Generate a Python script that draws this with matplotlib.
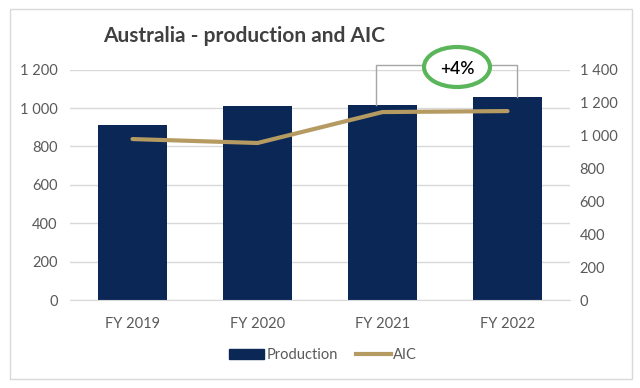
import numpy as np
import matplotlib
matplotlib.use("Agg")
from matplotlib import pyplot as plt
from matplotlib.patches import Rectangle, Ellipse
from matplotlib.lines import Line2D

years = ["FY 2019", "FY 2020", "FY 2021", "FY 2022"]
production = [912, 1012, 1015, 1058]
aic = [978, 954, 1142, 1148]
change_label = "+4%"

navy = "#0A2756"
tan = "#B59A62"
grey_txt = "#595959"

plt.rcParams["font.family"] = ["Lato", "DejaVu Sans"]

fig = plt.figure(figsize=(6.4, 3.88), dpi=100)
fig.patch.set_facecolor("white")

# chart frame
fig.add_artist(Rectangle((10 / 640, 1 - 379 / 388), 622 / 640, 370 / 388,
                         transform=fig.transFigure, fill=False,
                         edgecolor="#D9D9D9", lw=1))

ax = fig.add_axes([70 / 640, 1 - 300 / 388, 500 / 640, 230.4 / 388])
ax2 = ax.twinx()

x = np.arange(len(years))
ax.bar(x, production, width=0.55, color=navy, zorder=2)
ax2.plot(x, aic, color=tan, lw=3, solid_capstyle="round", zorder=3)

ax.set_xlim(-0.5, 3.5)
ax.set_ylim(0, 1200)
ax2.set_ylim(0, 1400)
ax.set_yticks(np.arange(0, 1201, 200))
ax2.set_yticks(np.arange(0, 1401, 200))

fmt = lambda v, p: f"{int(v):,}".replace(",", " ")
ax.yaxis.set_major_formatter(fmt)
ax2.yaxis.set_major_formatter(fmt)

ax.set_xticks(x)
ax.set_xticklabels(years)
ax.grid(axis="y", color="#D9D9D9", lw=1, zorder=0)
ax.set_axisbelow(True)

for a in (ax, ax2):
    for s in a.spines.values():
        s.set_visible(False)
    a.tick_params(length=0, labelsize=10.5, colors=grey_txt)
ax.spines["bottom"].set_visible(True)
ax.spines["bottom"].set_color("#D9D9D9")
ax.tick_params(axis="y", pad=9)
ax2.tick_params(axis="y", pad=7)
ax.tick_params(axis="x", pad=12)

ax2.set_zorder(ax.get_zorder() + 1)
ax2.patch.set_visible(False)

fig.text(103 / 640, 1 - 36 / 388, "Australia - production and AIC",
         fontsize=15, fontweight="bold", color="#404040", va="center")

# bracket between FY 2021 and FY 2022 bars
top = 1224
ax.plot([1.948, 1.948, 3.076, 3.076], [production[2], top, top, production[3]],
        color="#A6A6A6", lw=1, clip_on=False, zorder=4)
fig.add_artist(Ellipse((457 / 640, 1 - 67 / 388), 66 / 640, 40 / 388,
                       transform=fig.transFigure, facecolor="white",
                       edgecolor="#5BB65B", lw=3, zorder=5))
fig.text(457 / 640, 1 - 69 / 388, change_label, fontsize=12.5,
         fontweight="semibold", color="black", ha="center", va="center",
         zorder=6)

handles = [Rectangle((0, 0), 1, 1, color=navy),
           Line2D([0], [0], color=tan, lw=3)]
fig.legend(handles, ["Production", "AIC"], loc="center",
           bbox_to_anchor=(323 / 640, 1 - 355 / 388), ncol=2, frameon=False,
           fontsize=10.5, handlelength=2.4, handleheight=0.65,
           handletextpad=0.2, columnspacing=1.2, labelcolor=grey_txt)

fig.savefig("out.png", dpi=100)
